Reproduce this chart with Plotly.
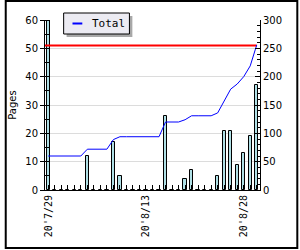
import plotly.graph_objects as go

# ---- data ----
days = ["7/29", "7/30", "7/31", "8/1", "8/2", "8/3", "8/4", "8/5", "8/6", "8/7",
        "8/8", "8/9", "8/10", "8/11", "8/12", "8/13", "8/14", "8/15", "8/16", "8/17",
        "8/18", "8/19", "8/20", "8/21", "8/22", "8/23", "8/24", "8/25", "8/26", "8/27",
        "8/28", "8/29", "8/30"]
pages = [60, 0, 0, 0, 0, 0, 12, 0, 0, 0,
         17, 5, 0, 0, 0, 0, 0, 0, 26, 0,
         0, 4, 7, 0, 0, 0, 5, 21, 21, 9,
         13, 19, 37]
total = [60, 60, 60, 60, 60, 60, 72, 72, 72, 72,
         89, 94, 94, 94, 94, 94, 94, 94, 120, 120,
         120, 124, 131, 131, 131, 131, 136, 157, 178, 187,
         200, 219, 256]
goal = 255
tick_labels = {0: "20'7/29", 15: "20'8/13", 30: "20'8/28"}
legend_label = "Total"

idx = list(range(len(days)))
MONO = "DejaVu Sans Mono"
SANS = "DejaVu Sans"
LINE_BLUE = "#0000ff"

fig = go.Figure()
fig.add_trace(go.Bar(x=idx, y=pages, width=0.5, yaxis="y",
                     marker=dict(color="#b0e0e6", line=dict(color="black", width=1)),
                     showlegend=False, hoverinfo="skip"))
fig.add_trace(go.Scatter(x=[idx[0] - 0.5, idx[-1]], y=[goal, goal], yaxis="y2", mode="lines",
                         line=dict(color="#ff0000", width=2), showlegend=False))
fig.add_trace(go.Scatter(x=idx, y=total, yaxis="y2", mode="lines", name=legend_label,
                         line=dict(color=LINE_BLUE, width=1), showlegend=False))

L, R, T, B = 41, 40, 20, 60
W, H = 300, 250
pw, ph = W - L - R, H - T - B


def px(x):
    return (x - L) / pw


def py(y):
    return (H - B - y) / ph


fig.update_layout(
    width=W, height=H,
    margin=dict(l=L, r=R, t=T, b=B, pad=0),
    paper_bgcolor="white", plot_bgcolor="white",
    font=dict(family=MONO, size=10, color="black"),
    bargap=0,
    xaxis=dict(range=[-0.5, len(days) - 0.5], tickmode="array", tickvals=idx,
               ticktext=[tick_labels.get(i, "") for i in idx],
               ticks="inside", ticklen=5, tickcolor="black", tickangle=-90,
               showline=True, linecolor="black", linewidth=1, showgrid=False,
               zeroline=False, tickfont=dict(family=MONO, size=10)),
    yaxis=dict(range=[0, 60], dtick=10, ticks="outside", ticklen=4, tickcolor="black",
               showline=True, linecolor="black", linewidth=1, showgrid=True,
               gridcolor="#dcdcdc", zeroline=False, tickfont=dict(family=SANS, size=10),
               minor=dict(dtick=5, ticks="inside", ticklen=4, tickcolor="black", showgrid=False),
               title=dict(text="Pages", standoff=6, font=dict(family=SANS, size=10))),
    yaxis2=dict(range=[0, 300], dtick=50, overlaying="y", side="right", ticks="inside",
                ticklen=5, tickcolor="black", showline=True, linecolor="black", linewidth=1,
                showgrid=False, zeroline=False, tickfont=dict(family=SANS, size=10),
                minor=dict(dtick=10, ticks="inside", ticklen=3, tickcolor="black")),
    showlegend=False,
    shapes=[
        # legend shadow, box and sample line
        dict(type="rect", xref="paper", yref="paper", x0=px(63), x1=px(130), y0=py(37), y1=py(16),
             fillcolor="#a8a8a8", line=dict(width=0), layer="above"),
        dict(type="rect", xref="paper", yref="paper", x0=px(60), x1=px(127), y0=py(34), y1=py(13),
             fillcolor="#ecebf2", line=dict(color="black", width=1), layer="above"),
        dict(type="line", xref="paper", yref="paper", x0=px(69), x1=px(79), y0=py(23.5), y1=py(23.5),
             line=dict(color=LINE_BLUE, width=2), layer="above"),
        # outer frame
        dict(type="rect", xref="paper", yref="paper", x0=px(1), x1=px(298), y0=py(248), y1=py(1),
             line=dict(color="black", width=2)),
    ],
    annotations=[
        dict(text=legend_label, xref="paper", yref="paper", x=px(87), y=py(23.5),
             xanchor="left", yanchor="middle", showarrow=False,
             font=dict(family=MONO, size=11)),
    ],
)

fig.write_html("out.html")
